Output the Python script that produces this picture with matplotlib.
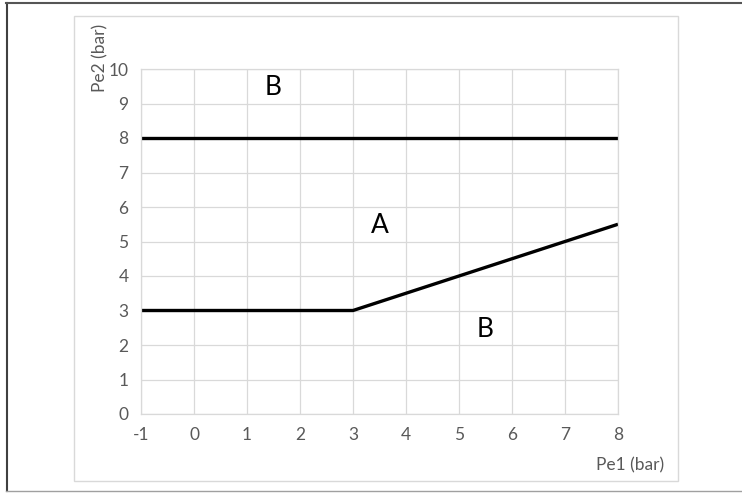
import matplotlib
matplotlib.use("Agg")
import matplotlib.pyplot as plt
from matplotlib.patches import Rectangle
from matplotlib.lines import Line2D

plt.rcParams['font.family'] = ['Lato', 'DejaVu Sans']
plt.rcParams['axes.unicode_minus'] = False

# boundary lines
upper_x = [-1, 8]
upper_y = [8, 8]
lower_x = [-1, 3, 8]
lower_y = [3, 3, 5.5]

# region labels
region_text = ['B', 'A', 'B']
region_x = [1.5, 3.5, 5.5]
region_y = [9.45, 5.45, 2.45]

x_ticks = [-1, 0, 1, 2, 3, 4, 5, 6, 7, 8]
y_ticks = [0, 1, 2, 3, 4, 5, 6, 7, 8, 9, 10]

W, H = 742, 493
fig = plt.figure(figsize=(W / 100, H / 100), dpi=100)
ax = fig.add_axes([141 / W, 1 - 414 / H, (618 - 141) / W, (414 - 69) / H])

ax.plot(upper_x, upper_y, color='black', lw=2.4, solid_capstyle='butt')
ax.plot(lower_x, lower_y, color='black', lw=2.4, solid_capstyle='butt')

for t, x, y in zip(region_text, region_x, region_y):
    ax.text(x, y, t, fontsize=19, ha='center', va='center', color='black')

ax.set_xlim(-1, 8)
ax.set_ylim(0, 10)
ax.set_xticks(x_ticks)
ax.set_yticks(y_ticks)
ax.grid(True, color='#d9d9d9', lw=0.9)
ax.set_axisbelow(True)
ax.tick_params(length=0, colors='#595959', labelsize=12.5, pad=9)
for s in ax.spines.values():
    s.set_color('#d9d9d9')
    s.set_linewidth(0.9)

fig.text(100 / W, 1 - 58 / H, 'Pe2 (bar)', rotation=90, ha='center', va='center',
         color='#595959', fontsize=12.5)
fig.text(630 / W, 1 - 465 / H, 'Pe1 (bar)', ha='center', va='center',
         color='#595959', fontsize=12.5)

# chart area box and outer frame
fig.patches.append(Rectangle((74 / W, 1 - 481 / H), (678 - 74) / W, (481 - 16) / H,
                             transform=fig.transFigure, fill=False,
                             edgecolor='#d9d9d9', lw=1))
fig.lines.append(Line2D([6.5 / W, 6.5 / W], [1 - 3 / H, 1 - 491 / H],
                        transform=fig.transFigure, color='#404040', lw=1.5))
fig.lines.append(Line2D([6 / W, 1], [1 - 3 / H, 1 - 3 / H],
                        transform=fig.transFigure, color='#555555', lw=1.5))
fig.lines.append(Line2D([6 / W, 1], [1 - 491 / H, 1 - 491 / H],
                        transform=fig.transFigure, color='#a0a0a0', lw=1))

fig.savefig('out.png', dpi=100, facecolor='white')
